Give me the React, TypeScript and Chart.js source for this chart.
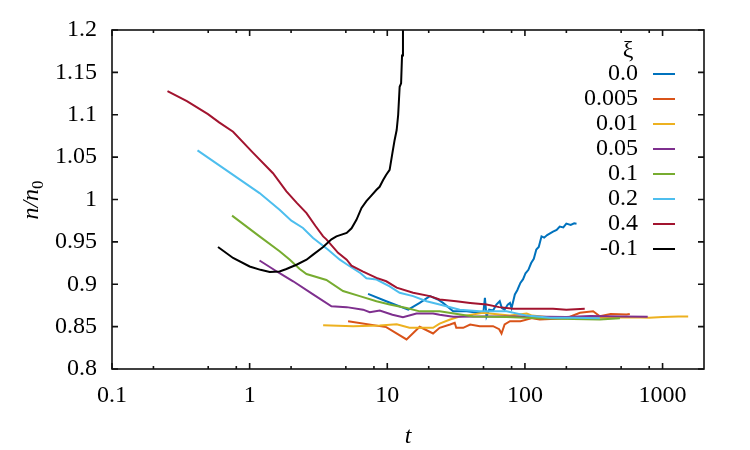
import { useEffect, useRef } from "react";
import { Chart, registerables } from "chart.js";

Chart.register(...registerables);

const seriesLabels = ["0.0", "0.005", "0.01", "0.05", "0.1", "0.2", "0.4", "-0.1"];
const seriesColors = ["#0072BD", "#D95319", "#EDB120", "#7E2F8E", "#77AC30", "#4DBEEE", "#A2142F", "#000000"];

const xi_0_0: [number, number][] = [
  [7.25, 0.8886], [9.83, 0.88], [14.2, 0.87], [17.2, 0.878], [20.4, 0.886], [23.3, 0.882], [25.4, 0.878],
  [30.1, 0.868], [37.7, 0.868], [47, 0.866], [50, 0.868], [51.2, 0.884], [52, 0.872], [52.6, 0.862],
  [55, 0.87], [58.7, 0.869], [62, 0.876], [65.6, 0.88], [68, 0.872], [71.2, 0.87], [75, 0.876], [77.9, 0.878],
  [80, 0.872], [84.5, 0.888], [88, 0.893], [92.7, 0.9016], [97, 0.906], [101, 0.913], [106, 0.917],
  [111, 0.925], [116, 0.93], [121, 0.941], [126, 0.944], [132, 0.9565], [138, 0.955], [145, 0.958],
  [160, 0.962], [170, 0.964], [179, 0.968], [190, 0.967], [200, 0.9715], [215, 0.97], [228, 0.972], [237, 0.9715],
];
const xi_0_005: [number, number][] = [
  [5.19, 0.8564], [9.83, 0.8494], [13.8, 0.8349], [17.2, 0.8498], [21.5, 0.8419], [24, 0.8486], [28.6, 0.8525],
  [30.9, 0.8545], [31.7, 0.8486], [35.6, 0.8486], [40, 0.8525], [47, 0.8505], [58.7, 0.8505], [65, 0.847],
  [67.6, 0.8419], [71.2, 0.8525], [77.9, 0.8564], [92.7, 0.8564], [113, 0.86], [128, 0.8584], [200, 0.86],
  [251, 0.8663], [313, 0.8682], [350, 0.8623], [420, 0.865], [548, 0.8643], [578, 0.865],
];
const xi_0_01: [number, number][] = [
  [3.42, 0.8517], [5.64, 0.8505], [8.82, 0.8513], [11.7, 0.8528], [14.5, 0.8486], [21.5, 0.8486], [24, 0.8535],
  [28.6, 0.8584], [33.6, 0.8618], [49.7, 0.8663], [55.6, 0.8655], [65.6, 0.8643], [77.9, 0.863], [103, 0.8655],
  [113, 0.863], [160, 0.8604], [250, 0.861], [400, 0.8605], [600, 0.861], [800, 0.8605], [1000, 0.8615],
  [1300, 0.862], [1535, 0.862],
];
const xi_0_05: [number, number][] = [
  [1.18, 0.928], [1.65, 0.913], [2.07, 0.9035], [2.89, 0.888], [3.93, 0.874], [5.07, 0.873], [6.67, 0.87],
  [7.46, 0.867], [8.82, 0.869], [10.9, 0.864], [13, 0.861], [16.3, 0.8655], [21.5, 0.8655], [24, 0.864],
  [30.1, 0.8616], [50, 0.862], [100, 0.862], [200, 0.8615], [300, 0.8625], [500, 0.862], [780, 0.8616],
];
const xi_0_1: [number, number][] = [
  [0.745, 0.981], [1.18, 0.9565], [1.65, 0.939], [1.96, 0.929], [2.31, 0.918], [2.59, 0.912], [3.61, 0.905],
  [4.77, 0.892], [6.31, 0.886], [8.35, 0.88], [10.4, 0.876], [13.8, 0.872], [17.2, 0.868], [24, 0.868],
  [42, 0.862], [73.5, 0.8615], [128, 0.86], [224, 0.859], [350, 0.8584], [490, 0.86],
];
const xi_0_2: [number, number][] = [
  [0.418, 1.058], [0.758, 1.029], [1.18, 1.0076], [1.65, 0.988], [2.01, 0.975], [2.44, 0.9664], [2.89, 0.9546],
  [3.7, 0.941], [4.52, 0.929], [5.13, 0.923], [6.4, 0.913], [7.05, 0.907], [8.35, 0.9055], [10.4, 0.8976],
  [12.3, 0.89], [15.4, 0.886], [19.3, 0.88], [24, 0.876], [33.6, 0.87], [47, 0.868], [73.5, 0.868], [103, 0.863],
  [152, 0.8604], [224, 0.8604], [350, 0.86],
];
const xi_0_4: [number, number][] = [
  [0.253, 1.128], [0.35, 1.116], [0.498, 1.1007], [0.6, 1.091], [0.758, 1.08], [1.06, 1.055], [1.478, 1.031],
  [1.85, 1.0096], [2.2, 0.996], [2.59, 0.984], [3.0, 0.969], [3.42, 0.9565], [3.61, 0.953], [4.39, 0.937],
  [5.07, 0.929], [5.49, 0.922], [6.67, 0.915], [8.35, 0.9075], [9.83, 0.9035], [11.7, 0.896], [15.4, 0.89],
  [20.4, 0.886], [24, 0.882], [31.7, 0.88], [40, 0.878], [52.6, 0.876], [65, 0.873], [82.3, 0.871], [110, 0.871],
  [160, 0.871], [200, 0.87], [272, 0.871],
];
const xi_m0_1: [number, number][] = [
  [0.589, 0.944], [0.758, 0.931], [1.0, 0.921], [1.2, 0.917], [1.4, 0.9146], [1.65, 0.915], [1.85, 0.918],
  [2.19, 0.923], [2.59, 0.929], [2.89, 0.935], [3.42, 0.944], [3.93, 0.953], [4.27, 0.9565], [5.07, 0.9605],
  [5.5, 0.966], [5.97, 0.976], [6.5, 0.99], [7.05, 0.998], [7.6, 1.004], [8.35, 1.0115], [8.8, 1.015],
  [9.33, 1.023], [9.8, 1.029], [10.4, 1.035], [10.9, 1.055], [11.3, 1.07], [11.7, 1.082], [12.0, 1.1],
  [12.3, 1.133], [12.6, 1.137], [12.8, 1.17], [13.0, 1.2], [13.3, 1.26],
];

const seriesData = [xi_0_0, xi_0_005, xi_0_01, xi_0_05, xi_0_1, xi_0_2, xi_0_4, xi_m0_1];

const xMajorTicks = [0.1, 1, 10, 100, 1000];
const xTickLabels = ["0.1", "1", "10", "100", "1000"];
const xMinorTicks = [0.2, 0.5, 0.8, 2, 5, 8, 20, 50, 80, 200, 500, 800];
const yTicks = [0.8, 0.85, 0.9, 0.95, 1.0, 1.05, 1.1, 1.15, 1.2];
const yTickLabels = ["0.8", "0.85", "0.9", "0.95", "1", "1.05", "1.1", "1.15", "1.2"];

const FONT = "'Liberation Serif', 'Times New Roman', serif";

const framePlugin = {
  id: "gnuplotFrame",
  afterDraw(chart: any) {
    const { ctx, chartArea, scales } = chart;
    const { left, right, top, bottom } = chartArea;
    const x = scales.x;
    const y = scales.y;
    ctx.save();
    ctx.strokeStyle = "#111";
    ctx.lineWidth = 1.6;
    ctx.beginPath();
    const tick = (x1: number, y1: number, x2: number, y2: number) => {
      ctx.moveTo(x1, y1);
      ctx.lineTo(x2, y2);
    };
    for (const v of xMajorTicks) {
      const px = x.getPixelForValue(v);
      tick(px, bottom, px, bottom - 6);
      tick(px, top, px, top + 6);
    }
    for (const v of xMinorTicks) {
      const px = x.getPixelForValue(v);
      tick(px, bottom, px, bottom - 3);
      tick(px, top, px, top + 3);
    }
    for (const v of yTicks) {
      const py = y.getPixelForValue(v);
      tick(left, py, left + 6, py);
      tick(right, py, right - 6, py);
    }
    ctx.stroke();
    ctx.strokeRect(left, top, right - left, bottom - top);

    // legend
    ctx.fillStyle = "#000";
    ctx.font = `24px ${FONT}`;
    ctx.textAlign = "center";
    ctx.textBaseline = "middle";
    ctx.fillText("ξ", 628, 51);
    ctx.textAlign = "right";
    seriesLabels.forEach((lab, i) => {
      const ly = 74 + 25 * i;
      ctx.fillStyle = "#000";
      ctx.fillText(lab, 638, ly);
      ctx.strokeStyle = seriesColors[i];
      ctx.lineWidth = 2;
      ctx.beginPath();
      ctx.moveTo(653, ly);
      ctx.lineTo(675, ly);
      ctx.stroke();
    });

    // axis titles
    ctx.fillStyle = "#000";
    ctx.font = `italic 24px ${FONT}`;
    ctx.textAlign = "center";
    ctx.textBaseline = "middle";
    ctx.fillText("t", (left + right) / 2, 437);

    ctx.translate(30, 200);
    ctx.rotate(-Math.PI / 2);
    ctx.textAlign = "left";
    ctx.textBaseline = "alphabetic";
    const main = "n/n";
    const wMain = ctx.measureText(main).width;
    ctx.font = `17px ${FONT}`;
    const wSub = ctx.measureText("0").width;
    const total = wMain + wSub;
    ctx.font = `italic 24px ${FONT}`;
    ctx.fillText(main, -total / 2, 8);
    ctx.font = `17px ${FONT}`;
    ctx.fillText("0", -total / 2 + wMain, 13);
    ctx.restore();
  },
};

export default function App() {
  const ref = useRef<HTMLCanvasElement | null>(null);

  useEffect(() => {
    document.body.style.margin = "0";
    const canvas = ref.current;
    if (!canvas) return;
    const datasets = seriesData.map((d, i) => ({
      label: seriesLabels[i],
      data: d.map(([t, v]) => ({ x: t, y: v })),
      borderColor: seriesColors[i],
      backgroundColor: seriesColors[i],
      borderWidth: 2,
      pointRadius: 0,
      tension: 0,
      fill: false,
      order: -i,
    }));
    const chart = new Chart(canvas, {
      type: "line",
      data: { datasets },
      options: {
        responsive: false,
        animation: false,
        layout: { padding: { left: 0, top: 30, right: 46, bottom: 0 } },
        plugins: { legend: { display: false }, tooltip: { enabled: false } },
        scales: {
          x: {
            type: "logarithmic",
            min: 0.1,
            max: 2000,
            grid: { display: false, drawTicks: false },
            border: { display: false },
            afterBuildTicks: (s: any) => {
              s.ticks = xMajorTicks.map((v) => ({ value: v }));
            },
            afterFit: (s: any) => {
              s.height = 81;
            },
            ticks: {
              autoSkip: false,
              maxRotation: 0,
              padding: 12,
              color: "#000",
              font: { family: FONT, size: 24 },
              callback: (_v: any, i: number) => xTickLabels[i],
            },
          },
          y: {
            type: "linear",
            min: 0.8,
            max: 1.2,
            grid: { display: false, drawTicks: false },
            border: { display: false },
            afterBuildTicks: (s: any) => {
              s.ticks = yTicks.map((v) => ({ value: v }));
            },
            afterFit: (s: any) => {
              s.width = 112;
            },
            ticks: {
              autoSkip: false,
              padding: 15,
              color: "#000",
              font: { family: FONT, size: 24 },
              callback: (_v: any, i: number) => yTickLabels[i],
            },
          },
        },
      },
      plugins: [framePlugin],
    });
    return () => chart.destroy();
  }, []);

  return (
    <div style={{ width: 750, height: 450, background: "#fff" }}>
      <canvas ref={ref} width={750} height={450} style={{ display: "block" }} />
    </div>
  );
}
